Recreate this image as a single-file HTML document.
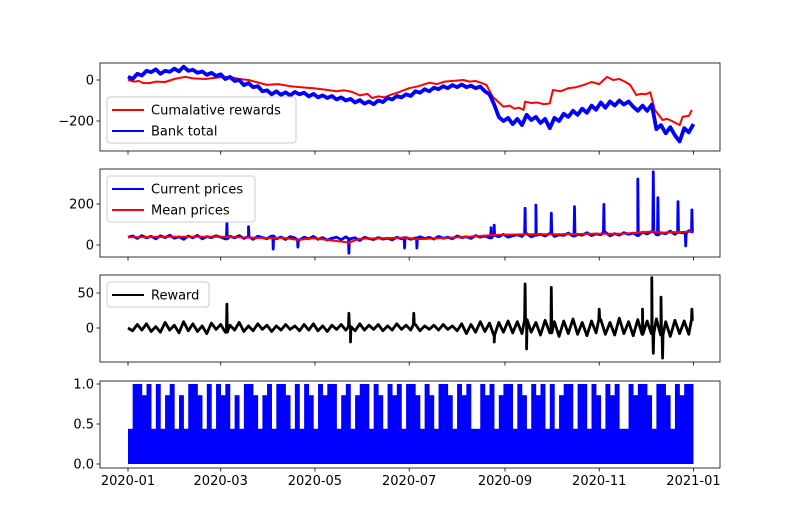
<!DOCTYPE html>
<html><head><meta charset="utf-8"><style>
body{margin:0;background:#fff}
svg{display:block;font-family:"DejaVu Sans","Liberation Sans",sans-serif}
</style></head><body>
<svg id="c" width="800" height="526" viewBox="0 0 800 526" xmlns="http://www.w3.org/2000/svg"></svg>
<script>
// ---- data ----
const xTickLabels=["2020-01","2020-03","2020-05","2020-07","2020-09","2020-11","2021-01"];
const xTickDays=[0,60,121,182,244,305,366];
// panel 1
const rewardCumDays=[0,4,7,10,14,18,24,30,37,42,50,58,66,72,78,84,90,97,105,112,120,128,135,140,145,150,155,158,162,166,170,175,182,188,195,200,205,210,217,221,225,229,232,236,243,247,250,253,256,257,261,265,269,273,275,280,285,290,295,300,305,310,314,318,322,325,329,332,335,338,341,346,349,352,357,359,363,365];
const rewardCumVals=[0,-8,-5,-15,-15,-8,-10,5,15,8,5,12,15,5,0,-12,-24,-20,-30,-35,-40,-48,-55,-50,-58,-75,-68,-88,-80,-85,-72,-60,-40,-30,-13,-20,-8,-5,0,-8,-5,-15,-24,-81,-130,-125,-140,-135,-146,-106,-112,-110,-118,-114,-49,-55,-40,-35,-24,-10,-20,15,0,5,-10,-24,-73,-68,-70,-60,-146,-195,-190,-200,-220,-179,-175,-146];
const bankStep=3;
const bankVals=[16,5,30,22,45,38,52,30,45,40,55,42,65,45,50,35,42,25,35,20,28,5,15,-5,0,-25,-15,-35,-30,-55,-50,-70,-55,-72,-60,-75,-58,-70,-62,-80,-68,-85,-75,-88,-78,-95,-85,-100,-92,-110,-98,-115,-105,-118,-100,-108,-88,-95,-78,-85,-70,-78,-55,-62,-45,-55,-38,-45,-30,-40,-25,-35,-22,-35,-28,-40,-32,-55,-70,-120,-180,-200,-185,-215,-190,-220,-170,-195,-180,-210,-190,-235,-185,-200,-165,-180,-150,-170,-140,-160,-125,-145,-110,-135,-105,-125,-100,-120,-105,-130,-150,-125,-150,-120,-240,-220,-260,-230,-270,-300,-235,-255,-215];
// panel 2
const priceStep=3;
const priceVals=[38,44,32,46,35,42,30,45,36,48,33,40,28,44,35,47,30,41,36,45,38,30,42,35,46,32,40,28,43,36,31,44,30,39,27,41,34,25,38,30,42,28,36,24,33,38,26,40,30,35,22,37,31,27,36,29,33,25,38,30,36,28,34,40,31,37,29,42,33,38,30,44,36,40,32,46,38,44,35,48,40,52,38,45,50,42,55,40,48,52,44,56,42,50,47,58,44,52,48,60,46,54,50,62,45,55,48,60,52,58,46,62,54,66,50,60,55,68,52,62,58,70,64];
const priceSpikeDays=[64,78,94,110,143,179,187,235,237,257,264,274,289,308,330,340,343,356,361,365];
const priceSpikeVals=[106,90,-20,-10,-40,-15,-15,85,97,179,195,155,187,198,322,357,231,211,-5,171];
const meanDays=[0,30,60,94,100,110,120,143,150,180,187,220,240,260,280,300,320,340,345,365];
const meanVals=[38,40,40,33,35,25,33,12,30,36,28,40,50,52,52,55,55,66,60,66];
// panel 3
const rewStep=3;
const rewVals=[0,-4,5,-3,6,-5,2,-6,8,-3,4,-7,9,-4,6,-5,3,-8,7,-2,5,-6,4,-3,8,-5,3,-4,6,-2,4,-5,3,-3,5,-2,3,-4,5,-3,6,-4,3,-5,4,-2,5,-3,2,-4,6,-3,4,-2,5,-4,3,-3,6,-2,4,-3,5,-4,3,-2,4,-3,5,-2,3,-4,6,-8,5,-6,9,-5,7,-10,8,-6,10,-7,9,-8,12,-6,8,-10,11,-7,9,-12,10,-8,13,-9,8,-11,10,-7,12,-9,8,-10,14,-8,9,-11,12,-9,10,-8,13,-10,9,-12,11,-8,10,-9,12,-7,15];
const rewSpikeDays=[64,143,144,185,237,257,258,274,305,333,339,340,345,346,365];
const rewSpikeVals=[34,21,-20,21,-20,63,-30,58,27,27,72,-36,44,-43,27];
// panel 4
const actStep=3;
const actVals=[.44,1,1,.86,1,.44,1,.44,.86,1,.44,.86,.44,1,1,.86,.44,1,.44,1,.86,1,.44,.86,.44,1,1,.86,.44,.86,1,.44,1,1,.86,.44,1,.44,1,.86,.44,1,.86,1,1,.44,.86,1,.44,.86,1,1,.44,1,.86,.44,1,.86,1,.44,1,1,.86,.44,1,.86,.44,1,1,.86,.44,1,.86,1,.44,.44,1,.86,1,.44,.86,1,1,.44,1,.86,.44,1,.86,1,.44,1,.44,.86,1,1,.44,1,1,.44,1,.86,.44,1,.86,1,.44,.44,1,.86,1,1,.86,.44,1,1,.86,.44,1,.86,1,1];

// ---- layout ----
const NS="http://www.w3.org/2000/svg";
const svg=document.getElementById('c');
const L=100,R=720;
const LASTDAY=366;
const X=d=>128+d*1.545;
const panels=[
 {top:63,bot:151,y:v=>80-v*0.205,ticks:[[0,"0"],[-200,"−200"]],name:"rewards-panel"},
 {top:169,bot:257,y:v=>245-v*0.205,ticks:[[200,"200"],[0,"0"]],name:"prices-panel"},
 {top:275,bot:362,y:v=>328-v*0.7,ticks:[[50,"50"],[0,"0"]],name:"reward-panel"},
 {top:381,bot:468,y:v=>464-v*80,ticks:[[1,"1.0"],[0.5,"0.5"],[0,"0.0"]],name:"action-panel"}
];
function mk(tag,attrs,parent){const e=document.createElementNS(NS,tag);for(const k in attrs)e.setAttribute(k,attrs[k]);(parent||svg).appendChild(e);return e;}
function path(pts,y,color,w,parent,name){
  pts=pts.filter(p=>p[0]<=LASTDAY);
  let d=pts.map((p,i)=>(i?'L':'M')+X(p[0]).toFixed(1)+','+y(p[1]).toFixed(1)).join('');
  const e=mk('path',{d:d,fill:'none',stroke:color,'stroke-width':w,'stroke-linejoin':'round'},parent);
  
  
  return e;
}
function stepPts(vals,step){return vals.map((v,i)=>[i*step,v]);}
function baseAt(vals,step,d){const i=Math.min(vals.length-1,Math.round(d/step));return vals[i];}
function merge(vals,step,ds,vs){
  const b=stepPts(vals,step);
  ds.forEach((d,i)=>{const bv=baseAt(vals,step,d);b.push([d-0.3,bv],[d,vs[i]],[Math.min(d+0.3,LASTDAY),bv]);});
  b.sort((p,q)=>p[0]-q[0]);return b;
}
function zip(ds,vs){return ds.map((d,i)=>[d,vs[i]]);}

panels.forEach((p,pi)=>{
  const g=mk('g',{});
  
  
  const cid='clip'+pi;
  const cp=mk('clipPath',{id:cid},g);mk('rect',{x:L,y:p.top,width:R-L,height:p.bot-p.top},cp);
  const dg=mk('g',{'clip-path':'url(#'+cid+')'},g);
  if(pi===0){
    path(zip(rewardCumDays,rewardCumVals),p.y,'#ff0000',2,dg,'cumulative-rewards-line');
    path(stepPts(bankVals,bankStep),p.y,'#0000ff',3.8,dg,'bank-total-line');
  } else if(pi===1){
    path(merge(priceVals,priceStep,priceSpikeDays,priceSpikeVals),p.y,'#0000ff',2.8,dg,'current-prices-line');
    path(zip(meanDays,meanVals),p.y,'#ff0000',2,dg,'mean-prices-line');
  } else if(pi===2){
    path(merge(rewVals,rewStep,rewSpikeDays,rewSpikeVals),p.y,'#000000',2.8,dg,'reward-line');
  } else {
    const end=X(LASTDAY);
    actVals.forEach((v,i)=>{
      const x0=X(i*actStep);
      if(x0>=end)return;
      const w=Math.min(actStep*1.545+0.3,end-x0);
      const r=mk('rect',{x:x0,y:p.y(v),width:w,height:p.y(0)-p.y(v),fill:'#0000ff'},dg);
      
      
    });
  }
  const fr=mk('rect',{x:L,y:p.top,width:R-L,height:p.bot-p.top,fill:'none',stroke:'#000','stroke-width':0.8},g);
  
  
  p.ticks.forEach(t=>{
    const yy=p.y(t[0]);
    mk('line',{x1:L-3.5,x2:L,y1:yy,y2:yy,stroke:'#000','stroke-width':0.8},g);
    const tx=mk('text',{x:L-6,y:yy+4.5,'text-anchor':'end','font-size':'13px',fill:'#000'},g);
    tx.textContent=t[1];
    
    
  });
  xTickDays.forEach((d,i)=>{
    mk('line',{x1:X(d),x2:X(d),y1:p.bot,y2:p.bot+3.5,stroke:'#000','stroke-width':0.8},g);
    if(pi===3){
      const tx=mk('text',{x:X(d),y:p.bot+17,'text-anchor':'middle','font-size':'13px',fill:'#000'},g);
      tx.textContent=xTickLabels[i];
      
      
    }
  });
});

// legends
function legend(x,y,w,entries,name){
  const g=mk('g',{});
  
  
  const h=entries.length*21+4;
  mk('rect',{x:x,y:y,width:w,height:h,rx:3,fill:'#fff','fill-opacity':0.8,stroke:'#ccc','stroke-width':1},g);
  entries.forEach((e,i)=>{
    const yy=y+13+i*21;
    mk('line',{x1:x+5,x2:x+37,y1:yy,y2:yy,stroke:e[1],'stroke-width':2},g);
    const t=mk('text',{x:x+44,y:yy+4.5,'font-size':'13px',fill:'#000'},g);
    t.textContent=e[0];
    
    
  });
}
legend(107,97,189,[["Cumalative rewards","#ff0000"],["Bank total","#0000ff"]],"rewards-legend");
legend(107,176,148,[["Current prices","#0000ff"],["Mean prices","#ff0000"]],"prices-legend");
legend(107,282,102,[["Reward","#000000"]],"reward-legend");
</script>
</body></html>
